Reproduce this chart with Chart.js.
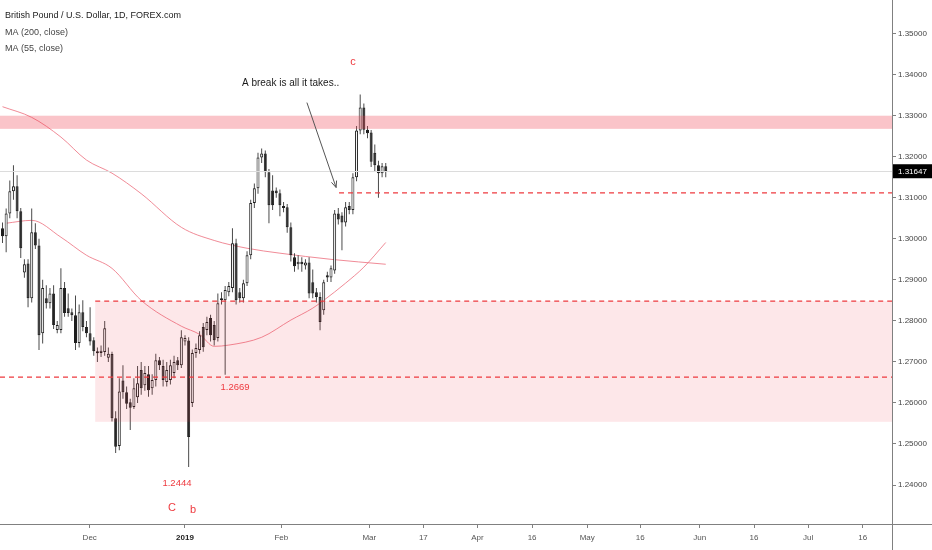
<!DOCTYPE html>
<html>
<head>
<meta charset="utf-8">
<script src="https://cdn.jsdelivr.net/npm/chart.js@4.4.1/dist/chart.umd.min.js"></script>
<style>
  html, body { margin: 0; padding: 0; background: #fff; }
  #wrap { width: 932px; height: 550px; }
</style>
</head>
<body>
<div id="wrap"><canvas id="chart" width="932" height="550"></canvas></div>
<script>
// GBPUSD daily candles (FOREX.com), one entry per bar
const opens = [
  1.3026, 1.3006, 1.3062, 1.3116, 1.3128, 1.3067, 1.2918, 1.2940, 1.2855, 1.3016,
  1.2984, 1.2770, 1.2855, 1.2843, 1.2867, 1.2778, 1.2778, 1.2880, 1.2831, 1.2821,
  1.2814, 1.2746, 1.2821, 1.2785, 1.2770, 1.2753, 1.2721, 1.2722, 1.2724, 1.2710,
  1.2719, 1.2563, 1.2495, 1.2655, 1.2626, 1.2602, 1.2590, 1.2614, 1.2680, 1.2643,
  1.2670, 1.2636, 1.2656, 1.2704, 1.2690, 1.2651, 1.2656, 1.2673, 1.2704, 1.2692,
  1.2750, 1.2752, 1.2600, 1.2722, 1.2729, 1.2785, 1.2778, 1.2807, 1.2790, 1.2758,
  1.2855, 1.2850, 1.2870, 1.2880, 1.2989, 1.2870, 1.2855, 1.2892, 1.2960, 1.3087,
  1.3123, 1.3198, 1.3208, 1.3162, 1.3118, 1.3118, 1.3111, 1.3075, 1.3077, 1.3028,
  1.2955, 1.2938, 1.2944, 1.2935, 1.2942, 1.2894, 1.2870, 1.2858, 1.2826, 1.2911,
  1.2906, 1.2923, 1.3062, 1.3057, 1.3040, 1.3080, 1.3070, 1.3150, 1.3264, 1.3320,
  1.3266, 1.3259, 1.3210, 1.3179, 1.3160, 1.3177
];
const highs = [
  1.3040, 1.3074, 1.3142, 1.3179, 1.3155, 1.3075, 1.2950, 1.2950, 1.3074, 1.3038,
  1.3000, 1.2900, 1.2887, 1.2880, 1.2887, 1.2800, 1.2928, 1.2895, 1.2867, 1.2830,
  1.2862, 1.2840, 1.2850, 1.2800, 1.2833, 1.2760, 1.2735, 1.2740, 1.2800, 1.2735,
  1.2725, 1.2580, 1.2660, 1.2692, 1.2640, 1.2610, 1.2660, 1.2690, 1.2700, 1.2690,
  1.2690, 1.2670, 1.2720, 1.2712, 1.2705, 1.2700, 1.2705, 1.2715, 1.2712, 1.2777,
  1.2765, 1.2760, 1.2730, 1.2745, 1.2775, 1.2795, 1.2810, 1.2815, 1.2800, 1.2867,
  1.2870, 1.2885, 1.2895, 1.3026, 1.3000, 1.2880, 1.2900, 1.2970, 1.3095, 1.3135,
  1.3210, 1.3220, 1.3215, 1.3170, 1.3155, 1.3125, 1.3120, 1.3090, 1.3085, 1.3040,
  1.2965, 1.2960, 1.2955, 1.2950, 1.2955, 1.2925, 1.2880, 1.2870, 1.2900, 1.2920,
  1.2935, 1.3070, 1.3075, 1.3065, 1.3090, 1.3090, 1.3160, 1.3275, 1.3352, 1.3330,
  1.3275, 1.3265, 1.3230, 1.3190, 1.3185, 1.3185
];
const lows = [
  1.2990, 1.2967, 1.3050, 1.3095, 1.3050, 1.2953, 1.2905, 1.2833, 1.2845, 1.2975,
  1.2729, 1.2745, 1.2830, 1.2830, 1.2780, 1.2770, 1.2770, 1.2810, 1.2810, 1.2800,
  1.2729, 1.2735, 1.2775, 1.2760, 1.2740, 1.2715, 1.2700, 1.2712, 1.2715, 1.2700,
  1.2555, 1.2478, 1.2485, 1.2610, 1.2585, 1.2534, 1.2585, 1.2600, 1.2620, 1.2630,
  1.2615, 1.2620, 1.2640, 1.2680, 1.2640, 1.2640, 1.2645, 1.2660, 1.2680, 1.2685,
  1.2740, 1.2444, 1.2590, 1.2710, 1.2720, 1.2725, 1.2765, 1.2750, 1.2740, 1.2750,
  1.2840, 1.2669, 1.2860, 1.2870, 1.2840, 1.2845, 1.2845, 1.2885, 1.2950, 1.3075,
  1.3110, 1.3185, 1.3150, 1.3038, 1.3070, 1.3100, 1.3055, 1.3065, 1.3015, 1.2945,
  1.2920, 1.2925, 1.2920, 1.2925, 1.2855, 1.2855, 1.2845, 1.2777, 1.2815, 1.2895,
  1.2895, 1.2915, 1.3035, 1.2972, 1.3030, 1.3060, 1.3060, 1.3140, 1.3255, 1.3255,
  1.3245, 1.3175, 1.3165, 1.3100, 1.3150, 1.3150
];
const closes = [
  1.3006, 1.3062, 1.3116, 1.3128, 1.3067, 1.2977, 1.2938, 1.2855, 1.3016, 1.2984,
  1.2765, 1.2880, 1.2843, 1.2867, 1.2790, 1.2790, 1.2880, 1.2819, 1.2819, 1.2814,
  1.2746, 1.2821, 1.2785, 1.2770, 1.2750, 1.2726, 1.2726, 1.2727, 1.2782, 1.2720,
  1.2563, 1.2493, 1.2628, 1.2626, 1.2598, 1.2588, 1.2636, 1.2648, 1.2636, 1.2673,
  1.2631, 1.2656, 1.2704, 1.2692, 1.2656, 1.2680, 1.2692, 1.2700, 1.2692, 1.2760,
  1.2758, 1.2517, 1.2722, 1.2734, 1.2765, 1.2736, 1.2797, 1.2765, 1.2753, 1.2843,
  1.2850, 1.2875, 1.2885, 1.2989, 1.2850, 1.2855, 1.2892, 1.2960, 1.3087, 1.3123,
  1.3198, 1.3208, 1.3162, 1.3082, 1.3082, 1.3111, 1.3082, 1.3080, 1.3028, 1.2960,
  1.2933, 1.2944, 1.2938, 1.2942, 1.2867, 1.2867, 1.2858, 1.2797, 1.2894, 1.2906,
  1.2928, 1.3062, 1.3047, 1.3040, 1.3077, 1.3070, 1.3150, 1.3264, 1.3320, 1.3266,
  1.3257, 1.3188, 1.3179, 1.3160, 1.3177, 1.31647
];

// moving averages, read at a few bars
const ma200At = [0, 8, 16, 23, 30, 38, 49, 58, 67, 76, 90, 105];
const ma200 = [1.3322, 1.3296, 1.3248, 1.3192, 1.3160, 1.3110, 1.3028, 1.2996, 1.2977, 1.2965, 1.2950, 1.2938];
const ma55At = [1, 8, 16, 23, 30, 38, 49, 54, 58, 62, 71, 79, 85, 88, 94, 99, 105];
const ma55 = [1.3038, 1.3045, 1.3004, 1.2960, 1.2928, 1.2850, 1.2787, 1.2767, 1.2738, 1.2741, 1.2760, 1.2802, 1.2831, 1.2850, 1.2892, 1.2931, 1.2991];

// axis ticks (x in bar units, future bars included)
const xTickAt = [23.9, 50.0, 76.4, 100.5, 115.3, 130.1, 145.1, 160.2, 174.7, 191.0, 205.9, 220.7, 235.7];
const xTickNames = ['Dec', '2019', 'Feb', 'Mar', '17', 'Apr', '16', 'May', '16', 'Jun', '16', 'Jul', '16'];
const yTicks = [1.24, 1.25, 1.26, 1.27, 1.28, 1.29, 1.30, 1.31, 1.32, 1.33, 1.34, 1.35];

// drawn levels
const supplyBand = [1.3300, 1.3268];
const demandBox = [25.4, 1.2848, 1.2554]; // from bar, top, bottom
const dashLevels = [1.2663, 1.3112];
const dashFrom = [null, 92.2];
const lastPrice = 1.31647;

// notes on the chart: text, bar, price
const noteText = ['A break is all it takes..', 'c', '1.2669', '1.2444', 'C', 'b'];
const noteBar = [65.6, 96.0, 63.7, 47.8, 46.4, 52.2];
const notePrice = [1.3378, 1.3432, 1.2639, 1.2405, 1.2344, 1.2339];
const arrowFrom = [83.4, 1.3332];
const arrowTo = [91.4, 1.3125];

const FONT = '"Liberation Sans", Arial, sans-serif';
const RED = '#ee3a3f';

const bodies = opens.map((o, i) => ({ x: i, y: [o, closes[i]] }));
const wicks = lows.map((l, i) => ({ x: i, y: [l, highs[i]] }));
const bodyColors = opens.map((o, i) => closes[i] >= o ? '#ffffff' : '#1e1e1e');

const overlay = {
  id: 'overlay',
  afterDatasetsDraw(chart) {
    const { ctx, chartArea: a, scales: { x, y } } = chart;
    ctx.save();
    ctx.beginPath();
    ctx.rect(a.left, a.top, a.right - a.left, a.bottom - a.top);
    ctx.clip();

    // last price line
    const lp = Math.round(y.getPixelForValue(lastPrice)) + 0.5;
    ctx.strokeStyle = '#dcdcdc';
    ctx.lineWidth = 1;
    ctx.beginPath(); ctx.moveTo(a.left, lp); ctx.lineTo(a.right, lp); ctx.stroke();

    // supply band
    const b1 = y.getPixelForValue(supplyBand[0]), b2 = y.getPixelForValue(supplyBand[1]);
    ctx.fillStyle = 'rgba(240, 60, 75, 0.30)';
    ctx.fillRect(a.left, b1, a.right - a.left, b2 - b1);

    // demand box
    const bx = x.getPixelForValue(demandBox[0]);
    const t = y.getPixelForValue(demandBox[1]), bt = y.getPixelForValue(demandBox[2]);
    ctx.fillStyle = 'rgba(240, 60, 75, 0.12)';
    ctx.fillRect(bx, t, a.right - bx, bt - t);

    // dashed levels
    ctx.setLineDash([5, 4]);
    ctx.strokeStyle = RED;
    ctx.lineWidth = 1.3;
    const lines = dashLevels.map((v, i) => [dashFrom[i], v]);
    lines.push([demandBox[0], demandBox[1]]);
    lines.forEach(([from, v]) => {
      const py = y.getPixelForValue(v);
      const sx = from === null ? a.left : x.getPixelForValue(from);
      ctx.beginPath(); ctx.moveTo(sx, py); ctx.lineTo(a.right, py); ctx.stroke();
    });
    ctx.restore();
  },
  afterDraw(chart) {
    const { ctx, chartArea: a, scales: { x, y } } = chart;
    const W = chart.width, H = chart.height;
    ctx.save();

    // axis lines
    ctx.strokeStyle = '#808080';
    ctx.lineWidth = 1;
    ctx.beginPath();
    ctx.moveTo(0, Math.round(a.bottom) + 0.5); ctx.lineTo(W, Math.round(a.bottom) + 0.5);
    ctx.moveTo(Math.round(a.right) + 0.5, 0); ctx.lineTo(Math.round(a.right) + 0.5, H);
    ctx.stroke();

    // legend block
    ctx.textBaseline = 'middle';
    ctx.textAlign = 'left';
    ctx.font = '9px ' + FONT;
    ctx.fillStyle = '#1a1a1a';
    ctx.fillText('British Pound / U.S. Dollar, 1D, FOREX.com', 5, 16);
    ctx.fillStyle = '#444';
    ctx.fillText('MA (200, close)', 5, 33);
    ctx.fillText('MA (55, close)', 5, 49);

    // notes
    noteText.forEach((txt, i) => {
      const px = x.getPixelForValue(noteBar[i]);
      const py = y.getPixelForValue(notePrice[i]);
      if (i === 0) {
        ctx.font = '10px ' + FONT;
        ctx.fillStyle = '#1a1a1a';
        ctx.textAlign = 'left';
      } else {
        ctx.font = (txt.length === 1 ? '11px ' : '9.5px ') + FONT;
        ctx.fillStyle = RED;
        ctx.textAlign = 'center';
      }
      ctx.fillText(txt, px, py);
    });

    // arrow
    const ax1 = x.getPixelForValue(arrowFrom[0]), ay1 = y.getPixelForValue(arrowFrom[1]);
    const ax2 = x.getPixelForValue(arrowTo[0]), ay2 = y.getPixelForValue(arrowTo[1]);
    const ang = Math.atan2(ay2 - ay1, ax2 - ax1);
    ctx.strokeStyle = '#555';
    ctx.lineWidth = 1;
    ctx.beginPath();
    ctx.moveTo(ax1, ay1); ctx.lineTo(ax2, ay2);
    ctx.moveTo(ax2, ay2); ctx.lineTo(ax2 - 7 * Math.cos(ang - 0.4), ay2 - 7 * Math.sin(ang - 0.4));
    ctx.moveTo(ax2, ay2); ctx.lineTo(ax2 - 7 * Math.cos(ang + 0.4), ay2 - 7 * Math.sin(ang + 0.4));
    ctx.stroke();

    // last price tag on the axis
    const lp = y.getPixelForValue(lastPrice);
    ctx.fillStyle = '#000';
    ctx.fillRect(a.right + 1, lp - 7, W - a.right - 1, 14);
    ctx.fillStyle = '#fff';
    ctx.font = '8px ' + FONT;
    ctx.textAlign = 'left';
    ctx.fillText(lastPrice.toFixed(5), a.right + 6, lp + 0.5);
    ctx.restore();
  }
};

new Chart(document.getElementById('chart'), {
  type: 'bar',
  data: {
    datasets: [
      {
        label: 'body',
        data: bodies,
        backgroundColor: bodyColors,
        borderColor: '#1e1e1e',
        borderWidth: 1,
        borderSkipped: false,
        inflateAmount: 0,
        barThickness: 3,
        grouped: false
      },
      {
        label: 'wick',
        data: wicks,
        backgroundColor: '#4a4a4a',
        borderWidth: 0,
        inflateAmount: 0,
        barThickness: 1,
        grouped: false
      },
      {
        type: 'line',
        label: 'MA 55',
        data: ma55At.map((b, i) => ({ x: b, y: ma55[i] })),
        borderColor: 'rgba(236, 110, 125, 0.8)',
        borderWidth: 1,
        pointRadius: 0,
        tension: 0.4,
        cubicInterpolationMode: 'monotone'
      },
      {
        type: 'line',
        label: 'MA 200',
        data: ma200At.map((b, i) => ({ x: b, y: ma200[i] })),
        borderColor: 'rgba(236, 110, 125, 0.8)',
        borderWidth: 1,
        pointRadius: 0,
        tension: 0.4,
        cubicInterpolationMode: 'monotone'
      }
    ]
  },
  options: {
    responsive: false,
    animation: false,
    devicePixelRatio: 1,
    layout: { padding: 0 },
    plugins: { legend: { display: false }, tooltip: { enabled: false } },
    scales: {
      x: {
        type: 'linear',
        min: -0.685,
        max: 243.7,
        offset: false,
        afterBuildTicks: s => { s.ticks = xTickAt.map(v => ({ value: v })); },
        afterFit: s => { s.height = 26; s.paddingLeft = 0; s.paddingRight = 0; },
        grid: { offset: false, drawOnChartArea: false, drawTicks: true, tickLength: 4, color: '#808080' },
        border: { display: false },
        ticks: {
          autoSkip: false,
          maxRotation: 0,
          padding: 5,
          color: c => c.index === 1 ? '#222' : '#555',
          font: c => ({ family: FONT, size: 8, weight: c.index === 1 ? 'bold' : 'normal' }),
          callback: (v, i) => xTickNames[i]
        }
      },
      y: {
        position: 'right',
        min: 1.2305,
        max: 1.3582,
        afterBuildTicks: s => { s.ticks = yTicks.map(v => ({ value: v })); },
        afterFit: s => { s.width = 40; s.paddingTop = 0; s.paddingBottom = 0; },
        grid: { drawOnChartArea: false, drawTicks: true, tickLength: 4, color: '#808080' },
        border: { display: false },
        ticks: {
          padding: 2,
          color: '#444',
          font: { family: FONT, size: 8 },
          callback: v => v.toFixed(5)
        }
      }
    }
  },
  plugins: [overlay]
});
</script>
</body>
</html>
